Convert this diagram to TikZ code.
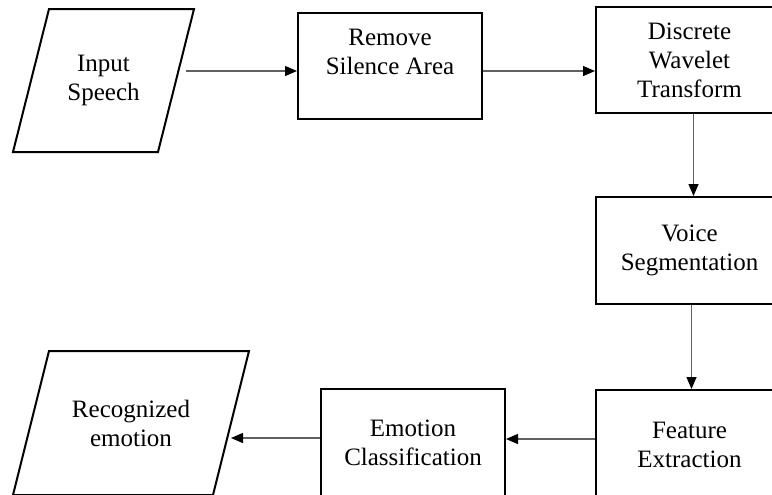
\documentclass[tikz,border=0pt]{standalone}
\usepackage{fontspec}
\setmainfont{Liberation Serif}
\usetikzlibrary{arrows.meta}

\begin{document}
\begin{tikzpicture}[x=0.5pt,y=-0.5pt,
    every node/.style={draw=black,line width=1pt,align=center,inner sep=0pt,font=\fontsize{12.5}{14.5}\selectfont},
    box/.style={rectangle,minimum width=92pt,minimum height=53pt},
    io/.style={draw=none,rectangle,minimum height=70.5pt},
    ioline/.style={draw=black,line width=1pt,line join=miter},
    conn/.style={draw=black!62,line width=0.65pt,-{Triangle[length=6pt,width=5pt,black]}}]
                \useasboundingbox (0,0) rectangle (772,494);
                \clip (0,0) rectangle (772,494);

                \node[io,minimum width=89.5pt] (input) at (103.5,80.5) {Input\\Speech};
                \node[box] (rsa) at (390,66) {Remove\\Silence Area\\\mbox{}};
                \node[box,minimum width=93.5pt] (dwt) at (689.5,60) {Discrete\\Wavelet\\Transform};
                \node[box,minimum width=93.5pt,minimum height=53.5pt] (voice) at (689.5,250.5) {Voice\\Segmentation};
                \node[box,minimum width=93.5pt,minimum height=55pt] (feat) at (689.5,445) {Feature\\Extraction};
                \node[box,minimum height=54pt] (emo) at (413,443) {Emotion\\Classification};
                \node[io,minimum width=117pt,minimum height=71pt] (recog) at (131,423) {Recognized\\emotion};

                % slanted input/output outlines
                \draw[ioline] (input.south west) -- ([xshift=18pt]input.north west) -- (input.north east) -- ([xshift=-18pt]input.south east) -- cycle;
                \draw[ioline] (recog.south west) -- ([xshift=18pt]recog.north west) -- (recog.north east) -- ([xshift=-18pt]recog.south east) -- cycle;

                \path (input.east |- 0,71) edge[conn,shorten <=-4pt] (rsa.west |- 0,71);
                \path (rsa.east |- 0,71) edge[conn] (dwt.west |- 0,71);
                \path ([xshift=2pt]dwt.south) edge[conn] ([xshift=2pt]voice.north);
                \path ([xshift=1pt]voice.south) edge[conn] ([xshift=1pt]feat.north);
                \path (feat.west |- 0,439) edge[conn] (emo.east |- 0,439);
                \path (emo.west |- 0,438) edge[conn,shorten >=-9pt] (recog.east |- 0,438);
            \end{tikzpicture}
\end{document}
